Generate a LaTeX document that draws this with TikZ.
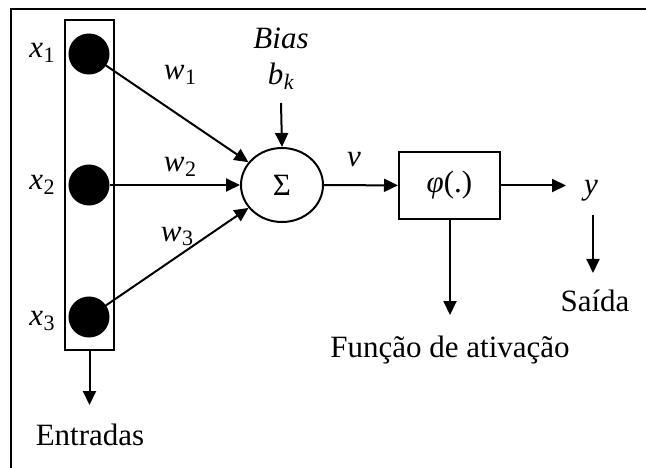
\documentclass[tikz,border=0pt]{standalone}
\usepackage{fontspec}
\setmainfont{Liberation Serif}
\usetikzlibrary{shapes.geometric,arrows.meta}
\newcommand{\sbs}[1]{\raisebox{-5pt}{\fontsize{22}{22}\selectfont #1}}
\newcommand{\vsub}[2]{\textit{#1}\kern0.5pt\sbs{#2}}
\begin{document}
\begin{tikzpicture}[x=1pt,y=-1pt,
  line width=2pt,
  font=\fontsize{31}{36}\selectfont,
  arr/.style={-{Triangle[length=14pt,width=13pt]}},
  lbl/.style={anchor=base,inner sep=0pt},
  dot/.style={circle,fill=black,draw=black,minimum size=39pt,inner sep=0pt},
  frameline/.style={line width=2.5pt}]
\useasboundingbox (0,0) rectangle (646,468);
% frame
\coordinate (ftl) at (11,9);
\coordinate (ftr) at (646,9);
\coordinate (fbl) at (11,468);
\draw[frameline] (ftr) -- (ftl) -- (fbl);
% inputs
\node[draw,rectangle,minimum width=49pt,minimum height=330pt,inner sep=0pt] (inbox) at (89.5,185) {};
\node[dot] (x1) at (89,54) {};
\node[dot] (x2) at (89,185) {};
\node[dot] (x3) at (89,317) {};
\node[lbl] (lx1) at (42,58) {\vsub{x}{1}};
\node[lbl] (lx2) at (42,190) {\vsub{x}{2}};
\node[lbl] (lx3) at (42,325) {\vsub{x}{3}};
% sum
\node[draw,ellipse,minimum width=82pt,minimum height=74pt,inner sep=0pt] (sum) at (282,185) {Σ};
\node[lbl] (bias) at (281,49) {\textit{Bias}};
\node[lbl] (bk) at (281,85) {\vsub{b}{\textit{k}}};
\coordinate (biasstart) at (281,103);
\draw[arr] (biasstart) -- (sum.north);
% weights
\draw[arr] (x1) -- (sum);
\draw[arr] (x2) -- (sum);
\draw[arr] (x3) -- (sum);
\node[lbl] (w1) at (180,80) {\vsub{w}{1}};
\node[lbl] (w2) at (180,172) {\vsub{w}{2}};
\node[lbl] (w3) at (177,241) {\vsub{w}{3}};
% activation
\node[draw,rectangle,minimum width=101pt,minimum height=67pt,inner sep=0pt] (phi) at (449.5,185.5) {\textit{φ}(.)};
\draw[arr] (sum) -- (phi);
\node[lbl] (v) at (354,167) {\textit{v}};
\coordinate (yend) at (566,185.5);
\draw[arr] (phi) -- (yend);
\node[lbl] (y) at (591,195) {\textit{y}};
\coordinate (phiend) at (450,315);
\draw[arr] (phi.south -| phiend) -- (phiend);
\node[lbl] (func) at (450,357) {Função de ativação};
\coordinate (ystart) at (593,215);
\coordinate (ydown) at (593,273);
\draw[arr] (ystart) -- (ydown);
\node[lbl] (saida) at (595,312) {Saída};
\coordinate (inend) at (89.5,405);
\draw[arr] (inbox.south) -- (inend);
\node[lbl] (entradas) at (90,445) {Entradas};
\end{tikzpicture}
\end{document}
